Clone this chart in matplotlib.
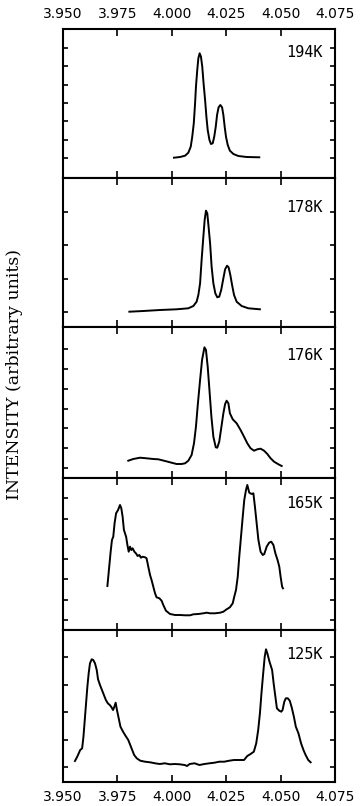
import numpy as np
import matplotlib
matplotlib.use("Agg")
from matplotlib import pyplot as plt

# 各温度下的谱线, 强度为任意单位
temps = ["194K", "178K", "176K", "165K", "125K"]

x194 = [4.0010, 4.0038, 4.0061, 4.0076, 4.0087, 4.0094, 4.0101, 4.0107, 4.0111, 4.0117,
        4.0122, 4.0128, 4.0134, 4.0140, 4.0146, 4.0153, 4.0159, 4.0165, 4.0173, 4.0180,
        4.0188, 4.0195, 4.0202, 4.0208, 4.0215, 4.0223, 4.0231, 4.0237, 4.0243, 4.0249,
        4.0257, 4.0267, 4.0283, 4.0306, 4.0344, 4.0402]
y194 = [20.3, 21.0, 22.3, 25.3, 31.3, 41.3, 54.7, 74.7, 91.3, 108.0,
        119.7, 124.7, 121.3, 111.3, 94.7, 78.0, 61.3, 48.0, 38.0, 34.0,
        34.7, 41.3, 51.3, 63.0, 70.7, 73.0, 70.7, 63.0, 51.3, 41.3,
        33.0, 27.3, 24.0, 22.0, 21.0, 20.7]

x178 = [3.9805, 3.9869, 3.9946, 4.0022, 4.0076, 4.0099, 4.0114, 4.0122, 4.0130, 4.0137,
        4.0145, 4.0151, 4.0157, 4.0163, 4.0169, 4.0176, 4.0183, 4.0191, 4.0200, 4.0209,
        4.0218, 4.0227, 4.0237, 4.0245, 4.0254, 4.0261, 4.0269, 4.0277, 4.0286, 4.0298,
        4.0321, 4.0352, 4.0405]
y178 = [15.3, 16.0, 17.0, 17.7, 18.7, 21.0, 25.3, 32.0, 43.7, 67.0,
        90.3, 107.0, 116.3, 113.7, 100.3, 83.7, 60.3, 43.7, 33.7, 29.7,
        30.3, 37.0, 48.7, 57.7, 61.3, 59.7, 52.0, 42.0, 32.0, 25.3,
        21.0, 18.7, 17.7]

x176 = [3.9800, 3.9823, 3.9854, 3.9884, 3.9915, 3.9938, 3.9969, 3.9999, 4.0022, 4.0045,
        4.0061, 4.0076, 4.0091, 4.0102, 4.0111, 4.0120, 4.0130, 4.0139, 4.0150, 4.0157,
        4.0165, 4.0173, 4.0182, 4.0191, 4.0202, 4.0209, 4.0218, 4.0227, 4.0237, 4.0245,
        4.0252, 4.0260, 4.0267, 4.0280, 4.0298, 4.0316, 4.0332, 4.0347, 4.0362, 4.0378,
        4.0393, 4.0408, 4.0424, 4.0439, 4.0454, 4.0470, 4.0490, 4.0505]
y176 = [17.3, 19.0, 20.3, 19.7, 19.0, 18.7, 17.0, 15.3, 14.0, 14.0,
        14.7, 17.3, 23.0, 34.7, 51.3, 74.7, 98.0, 118.0, 130.7, 128.0,
        111.3, 88.0, 61.3, 41.3, 30.7, 30.3, 36.3, 49.7, 64.7, 74.0,
        77.3, 74.7, 64.7, 58.7, 54.7, 48.0, 41.3, 34.7, 29.7, 27.3,
        28.7, 29.3, 27.3, 24.0, 19.7, 16.3, 13.7, 12.0]

x165 = [3.9704, 3.9711, 3.9719, 3.9725, 3.9731, 3.9737, 3.9744, 3.9753, 3.9762, 3.9768,
        3.9774, 3.9780, 3.9790, 3.9796, 3.9802, 3.9808, 3.9814, 3.9820, 3.9828, 3.9835,
        3.9843, 3.9851, 3.9858, 3.9866, 3.9877, 3.9884, 3.9892, 3.9900, 3.9907, 3.9915,
        3.9923, 3.9930, 3.9943, 3.9953, 3.9961, 3.9973, 3.9992, 4.0015, 4.0038, 4.0061,
        4.0084, 4.0099, 4.0122, 4.0145, 4.0160, 4.0176, 4.0199, 4.0222, 4.0237, 4.0252,
        4.0267, 4.0280, 4.0287, 4.0295, 4.0303, 4.0310, 4.0318, 4.0326, 4.0333, 4.0341,
        4.0347, 4.0356, 4.0367, 4.0375, 4.0382, 4.0390, 4.0398, 4.0408, 4.0418, 4.0425,
        4.0436, 4.0447, 4.0457, 4.0467, 4.0476, 4.0486, 4.0494, 4.0500, 4.0507, 4.0511]
y165 = [44.0, 60.0, 78.3, 90.0, 93.3, 106.7, 116.7, 120.0, 125.0, 121.7,
        113.3, 100.0, 93.3, 85.0, 78.3, 83.3, 80.0, 81.7, 78.3, 76.7,
        74.0, 75.0, 72.3, 73.3, 72.7, 71.7, 63.3, 55.0, 50.0, 43.3,
        36.7, 32.7, 31.7, 29.3, 25.0, 19.3, 16.0, 15.0, 15.0, 14.7,
        14.7, 15.7, 16.0, 16.7, 17.3, 16.7, 16.7, 17.3, 18.3, 20.7,
        22.7, 26.7, 33.3, 40.0, 53.3, 73.3, 93.3, 113.3, 130.0, 140.0,
        145.0, 137.3, 136.0, 136.7, 123.3, 106.7, 90.0, 78.3, 75.0, 76.0,
        83.3, 87.3, 88.3, 85.0, 76.7, 70.0, 63.3, 53.3, 43.3, 41.7]

x125 = [3.9555, 3.9567, 3.9579, 3.9588, 3.9594, 3.9600, 3.9606, 3.9612, 3.9618, 3.9624,
        3.9632, 3.9639, 3.9647, 3.9655, 3.9661, 3.9670, 3.9679, 3.9688, 3.9697, 3.9706,
        3.9715, 3.9723, 3.9730, 3.9736, 3.9742, 3.9748, 3.9756, 3.9764, 3.9776, 3.9788,
        3.9800, 3.9809, 3.9818, 3.9827, 3.9839, 3.9855, 3.9877, 3.9900, 3.9923, 3.9945,
        3.9968, 3.9991, 4.0014, 4.0036, 4.0059, 4.0070, 4.0082, 4.0105, 4.0127, 4.0150,
        4.0173, 4.0196, 4.0218, 4.0241, 4.0264, 4.0286, 4.0309, 4.0332, 4.0347, 4.0362,
        4.0377, 4.0388, 4.0397, 4.0405, 4.0412, 4.0420, 4.0427, 4.0433, 4.0439, 4.0449,
        4.0461, 4.0468, 4.0476, 4.0483, 4.0494, 4.0503, 4.0509, 4.0517, 4.0524, 4.0533,
        4.0542, 4.0551, 4.0561, 4.0570, 4.0582, 4.0594, 4.0605, 4.0615, 4.0627, 4.0638]
y125 = [21.0, 26.0, 32.0, 33.7, 45.3, 62.0, 78.7, 95.3, 108.7, 118.7,
        122.7, 122.0, 118.7, 112.0, 102.7, 97.0, 92.0, 87.0, 82.0, 78.7,
        77.0, 74.7, 72.0, 75.3, 79.3, 72.0, 63.7, 55.3, 50.3, 46.0,
        42.0, 37.0, 32.0, 27.0, 23.7, 21.3, 20.3, 19.7, 18.7, 18.0,
        18.7, 17.7, 18.0, 17.7, 17.0, 16.0, 18.0, 18.7, 17.0, 18.0,
        18.7, 19.3, 20.3, 20.3, 21.3, 22.0, 22.0, 22.0, 26.0, 28.0,
        30.3, 38.7, 52.0, 68.7, 88.7, 108.7, 125.3, 132.7, 128.7, 120.3,
        112.0, 98.7, 85.3, 73.7, 71.3, 70.3, 72.0, 80.3, 83.7, 83.7,
        81.3, 74.7, 65.3, 55.3, 48.7, 38.7, 32.0, 27.0, 22.0, 19.7]

xs = [x194, x178, x176, x165, x125]
ys = [y194, y178, y176, y165, y125]
ymax = [149, 149, 151, 152, 152]

# 左右两侧的强度刻度
yticks = [[20, 38.3, 56.7, 75, 93.3, 111.7, 130],
          [15, 48.3, 81.7, 115],
          [10, 29.8, 49.6, 69.4, 89.2, 109, 128.8],
          [10, 30.3, 50.6, 70.9, 91.2, 111.5, 131.8],
          [15, 42.5, 70, 97.5, 125]]
xticks = [3.950, 3.975, 4.000, 4.025, 4.050, 4.075]
xlabels = ["3.950", "3.975", "4.000", "4.025", "4.050", "4.075"]

label_y = [0.84, 0.80, 0.81, 0.835, 0.84]

fig = plt.figure(figsize=(3.61, 8.06), dpi=100)
gs = fig.add_gridspec(5, 1, height_ratios=ymax, hspace=0,
                      left=63/361, right=335/361, top=1-29/806, bottom=1-782/806)

for i in range(5):
    ax = fig.add_subplot(gs[i])
    ax.plot(xs[i], ys[i], color='k', lw=1.4)
    ax.set_xlim(3.950, 4.075)
    ax.set_ylim(0, ymax[i])
    ax.set_xticks(xticks)
    ax.set_yticks(yticks[i])
    ax.set_yticklabels([])
    ax.tick_params(axis='x', direction='in', top=True, bottom=True, length=5, width=1.2,
                   labeltop=(i == 0), labelbottom=(i == 4), labelsize=10, pad=6)
    ax.tick_params(axis='y', direction='in', left=True, right=True, length=3.5, width=1.2)
    if i == 0 or i == 4:
        ax.set_xticklabels(xlabels)
    for s in ax.spines.values():
        s.set_linewidth(1.5)
    ax.text(0.955, label_y[i], temps[i], transform=ax.transAxes, ha='right', va='center',
            fontsize=11, family='DejaVu Sans Mono')

fig.text(15/361, 1-375/806, "INTENSITY (arbitrary units)", rotation=90,
         ha='center', va='center', fontsize=12.5, family='DejaVu Serif')

fig.savefig("out.png", dpi=100)
